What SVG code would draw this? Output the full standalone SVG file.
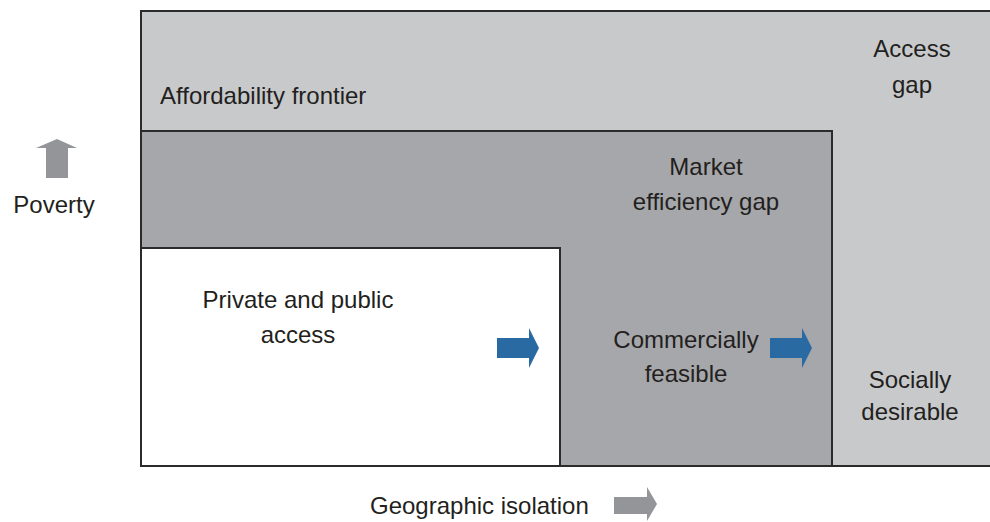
<svg xmlns="http://www.w3.org/2000/svg" width="990" height="522" viewBox="0 0 990 522">
<style>
text{font-family:"Liberation Sans",Arial,sans-serif;font-size:24px;fill:#231f20}
.box{stroke:#2b2b2b;stroke-width:2}
.mid{text-anchor:middle}
.blue{fill:#2a6aa3}
.grey{fill:#939598}
</style>
<rect width="990" height="522" fill="#ffffff"/>
<g id="access-gap">
<rect class="box" x="141" y="11" width="860" height="455" fill="#c8c9cb"/>
<text x="160" y="104">Affordability frontier</text>
<text class="mid" x="912" y="57">Access</text>
<text class="mid" x="912" y="93">gap</text>
<text class="mid" x="910" y="388">Socially</text>
<text class="mid" x="910" y="420">desirable</text>
</g>
<g id="market-efficiency-gap">
<rect class="box" x="141" y="131" width="691" height="335" fill="#a6a7aa"/>
<text class="mid" x="706" y="175">Market</text>
<text class="mid" x="706" y="210">efficiency gap</text>
<text class="mid" x="686" y="348">Commercially</text>
<text class="mid" x="686" y="382">feasible</text>
</g>
<g id="private-public-access">
<rect class="box" x="141" y="248" width="419" height="218" fill="#ffffff"/>
<text class="mid" x="298" y="308">Private and public</text>
<text class="mid" x="298" y="343">access</text>
</g>
<g id="connectors">
<polygon class="blue" points="497,338 529,338 529,328 539,348 529,368 529,358 497,358"/>
<polygon class="blue" points="770,338 802,338 802,328 812,348 802,368 802,358 770,358"/>
<polygon class="grey" points="614,497 647,497 647,487 657,504 647,521 647,514 614,514"/>
<polygon class="grey" points="46,178 46,148 36,148 57,139 77,148 68,148 68,178"/>
</g>
<g id="axis-labels">
<text class="mid" x="54" y="213">Poverty</text>
<text x="370" y="514">Geographic isolation</text>
</g>
</svg>
